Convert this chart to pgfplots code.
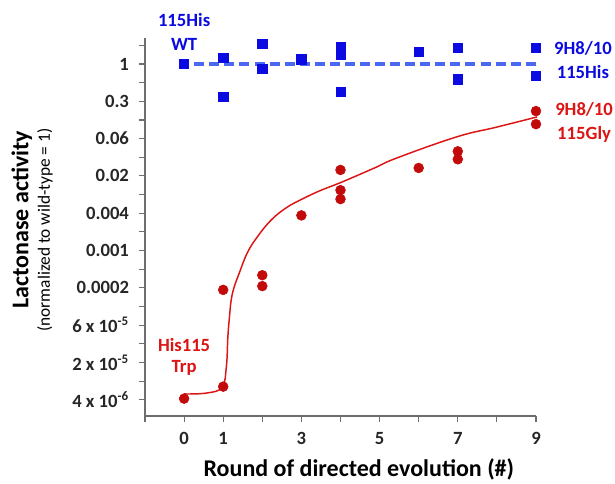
\documentclass[border=0pt]{standalone}
\usepackage{pgfplots}
\pgfplotsset{compat=1.18}
\usepackage{fontspec}
\setmainfont{Carlito}

\definecolor{wtblue}{RGB}{10,10,225}
\definecolor{dashblue}{RGB}{75,105,240}
\definecolor{ptred}{RGB}{195,10,10}
\definecolor{fitred}{RGB}{220,20,20}
\definecolor{axgray}{RGB}{110,110,110}

\begin{document}
\begin{tikzpicture}
\path[use as bounding box] (-108.75pt,-50.25pt) rectangle (352.5pt,312pt);
\begin{axis}[
	at={(0,0)}, anchor=south west,
	scale only axis,
	width=293.25pt, height=283.5pt,
	xmin=-1, xmax=9,
	ymode=log, log basis y=2,
	ymin=2.08e-6, ymax=2.63,
	axis x line*=bottom, axis y line*=left,
	axis line style={axgray, line width=1pt, -},
	tick style={axgray, line width=0.8pt},
	tick align=outside, major tick length=4.5pt,
	xtick={-1,0,1,2,3,4,5,6,7,8,9},
	xticklabels={,0,1,,3,,5,,7,,9},
	ytick={2,1,0.5,0.25,0.125,0.0625,0.03125,0.015625,0.0078125,0.00390625,
		0.001953125,0.0009765625,0.00048828125,0.000244140625,0.0001220703125,
		6.103515625e-5,3.0517578125e-5,1.52587890625e-5,7.62939453125e-6,3.814697265625e-6},
	yticklabels={,1,,0.3,,0.06,,0.02,,0.004,,0.001,,0.0002,,
		6 x 10\textsuperscript{-5},,2 x 10\textsuperscript{-5},,4 x 10\textsuperscript{-6}},
	minor tick num=0,
	ticklabel style={font=\bfseries\fontsize{14}{16}\selectfont, black!85},
	yticklabel style={xshift=-4pt},
	xticklabel style={yshift=-4pt},
	clip=false,
]
% fitted curve
\addplot[fitred, line width=1.1pt, smooth, tension=0.7] coordinates {
	(0,4.72e-6) (0.59,4.9e-6) (0.97,6.1e-6) (1.08,1.28e-5) (1.12,4.0e-5)
	(1.16,8.2e-5) (1.205,1.55e-4) (1.28,2.5e-4) (1.41,4.2e-4) (1.615,8.9e-4)
	(1.87,1.61e-3) (2.23,3.04e-3) (2.64,4.9e-3) (3.08,6.9e-3) (3.51,9.2e-3)
	(4.03,0.0124) (4.87,0.021) (5.44,0.0304) (6.97,0.0666) (8.0,0.096) (9.03,0.14)};
% wild type level
\addplot[dashblue, line width=2.6pt, dash pattern=on 7.5pt off 3.8pt] coordinates {(0.26,1) (9.1,1)};
% 115His variants
\addplot[only marks, mark=square*, mark size=3.5pt, wtblue] coordinates {
	(0,1) (1,1.25) (1,0.293) (2,2.1) (2,0.83) (3,1.2) (4,1.88) (4,1.40)
	(4,0.354) (6,1.56) (7,1.81) (7,0.57) (9,1.81) (9,0.64)};
% 115Gly / Trp variants
\addplot[only marks, mark=*, mark size=3.7pt, ptred] coordinates {
	(0,3.97e-6) (1,6.2e-6) (1,2.26e-4) (2,3.9e-4) (2,2.6e-4) (3,3.6e-3)
	(4,0.0195) (4,0.0092) (4,0.0066) (6,0.021) (7,0.039) (7,0.029)
	(9,0.174) (9,0.107)};

\node[wtblue, font=\bfseries\fontsize{14}{18}\selectfont, align=center] at (axis cs:0,3.28) {115His\\WT};
\node[wtblue, font=\bfseries\fontsize{14}{18}\selectfont, align=center] at (axis cs:10.2,1.18) {9H8/10\\115His};
\node[fitred, font=\bfseries\fontsize{14}{18}\selectfont, align=center] at (axis cs:10.23,0.114) {9H8/10\\115Gly};
\node[fitred, font=\bfseries\fontsize{14}{16}\selectfont, align=center] at (axis cs:0,1.87e-5) {His115\\Trp};

\node[rotate=90, font=\bfseries\fontsize{18}{20}\selectfont] at (rel axis cs:-0.315,0.519) {Lactonase activity};
\node[rotate=90, font=\fontsize{13}{15}\selectfont] at (rel axis cs:-0.256,0.492) {(normalized to wild-type = 1)};
\node[font=\bfseries\fontsize{18}{20}\selectfont] at (rel axis cs:0.547,-0.140) {Round of directed evolution (\#)};
\end{axis}
\end{tikzpicture}
\end{document}
